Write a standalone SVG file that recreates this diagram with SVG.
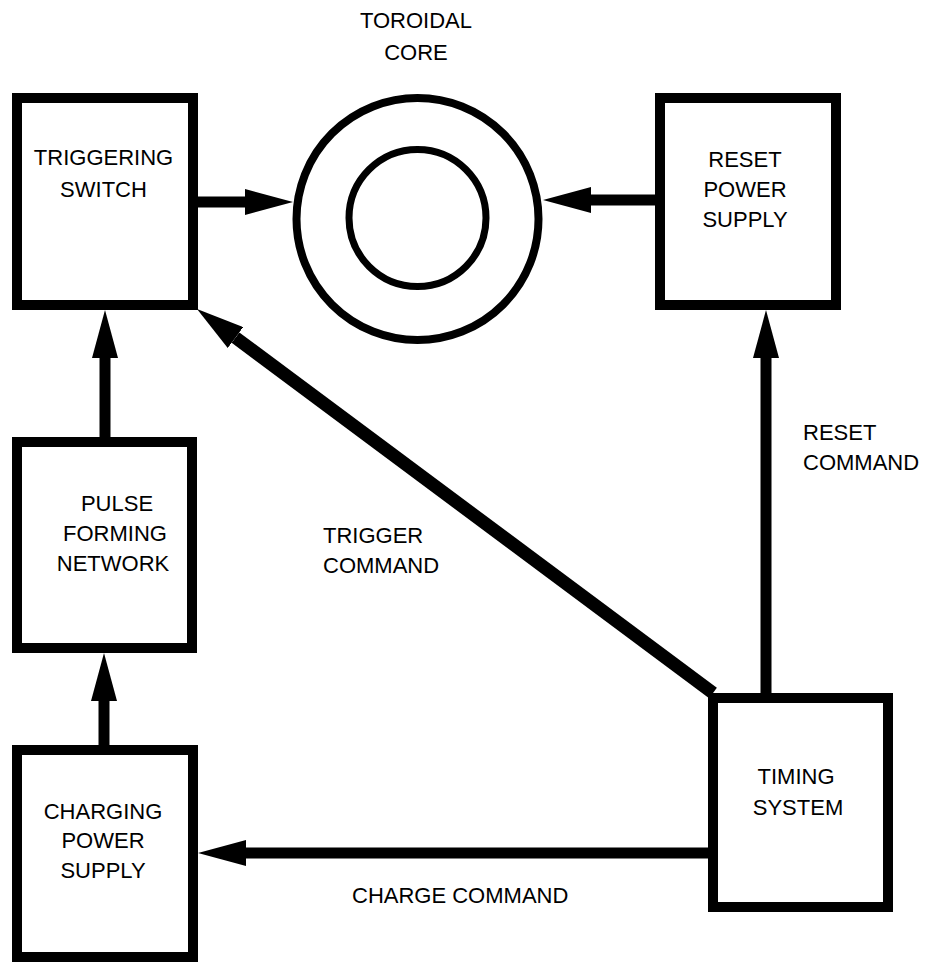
<svg xmlns="http://www.w3.org/2000/svg" width="927" height="962" viewBox="0 0 927 962">
<defs>
<style>
.box{fill:#fff;stroke:#000;stroke-width:10}
.ring{fill:none;stroke:#000}
.lbl{font-family:"Liberation Sans",Arial,sans-serif;font-size:22px;fill:#000}
.c{text-anchor:middle}
.wire{stroke:#000;stroke-width:11;fill:none;marker-end:url(#ah)}
</style>
<marker id="ah" markerUnits="userSpaceOnUse" markerWidth="48" markerHeight="26" refX="0" refY="13" orient="auto" viewBox="0 0 48 26">
<path d="M0,0 L48,13 L0,26 z" fill="#000"/>
</marker>
</defs>
<rect width="927" height="962" fill="#fff"/>
<g id="connectors">
<line class="wire" x1="198" y1="202" x2="245" y2="202"/>
<line class="wire" x1="655" y1="200" x2="591" y2="200"/>
<line class="wire" x1="105" y1="437" x2="105" y2="358"/>
<line class="wire" x1="104" y1="745" x2="104" y2="701"/>
<line class="wire" x1="708" y1="853" x2="246" y2="853"/>
<line class="wire" x1="766" y1="693" x2="766" y2="358"/>
<line class="wire" style="stroke-width:13" x1="713" y1="693" x2="235.5" y2="337.6"/>
</g>
<g id="core">
<circle class="ring" cx="417.5" cy="219" r="121" stroke-width="8"/>
<circle class="ring" cx="417.5" cy="218" r="68.5" stroke-width="7"/>
<text class="lbl c" x="416" y="28">TOROIDAL</text>
<text class="lbl c" x="416" y="60">CORE</text>
</g>
<g id="triggering-switch">
<rect class="box" x="17" y="98" width="176" height="207"/>
<text class="lbl c" x="103.5" y="165">TRIGGERING</text>
<text class="lbl c" x="103.5" y="197">SWITCH</text>
</g>
<g id="reset-power-supply">
<rect class="box" x="660" y="98" width="176" height="207"/>
<text class="lbl c" x="745" y="167">RESET</text>
<text class="lbl c" x="745" y="197">POWER</text>
<text class="lbl c" x="745" y="227">SUPPLY</text>
</g>
<g id="pulse-forming-network">
<rect class="box" x="17" y="442" width="175" height="206"/>
<text class="lbl c" x="117" y="511">PULSE</text>
<text class="lbl c" x="115" y="541">FORMING</text>
<text class="lbl c" x="113" y="571">NETWORK</text>
</g>
<g id="charging-power-supply">
<rect class="box" x="17" y="750" width="176" height="207"/>
<text class="lbl c" x="103" y="819">CHARGING</text>
<text class="lbl c" x="103" y="848">POWER</text>
<text class="lbl c" x="103" y="878">SUPPLY</text>
</g>
<g id="timing-system">
<rect class="box" x="713" y="698" width="175" height="209"/>
<text class="lbl c" x="796" y="784">TIMING</text>
<text class="lbl c" x="798" y="815">SYSTEM</text>
</g>
<g id="labels">
<text class="lbl" x="323" y="543">TRIGGER</text>
<text class="lbl" x="323" y="573">COMMAND</text>
<text class="lbl" x="803" y="440">RESET</text>
<text class="lbl" x="803" y="470">COMMAND</text>
<text class="lbl" x="352" y="903">CHARGE COMMAND</text>
</g>
</svg>
